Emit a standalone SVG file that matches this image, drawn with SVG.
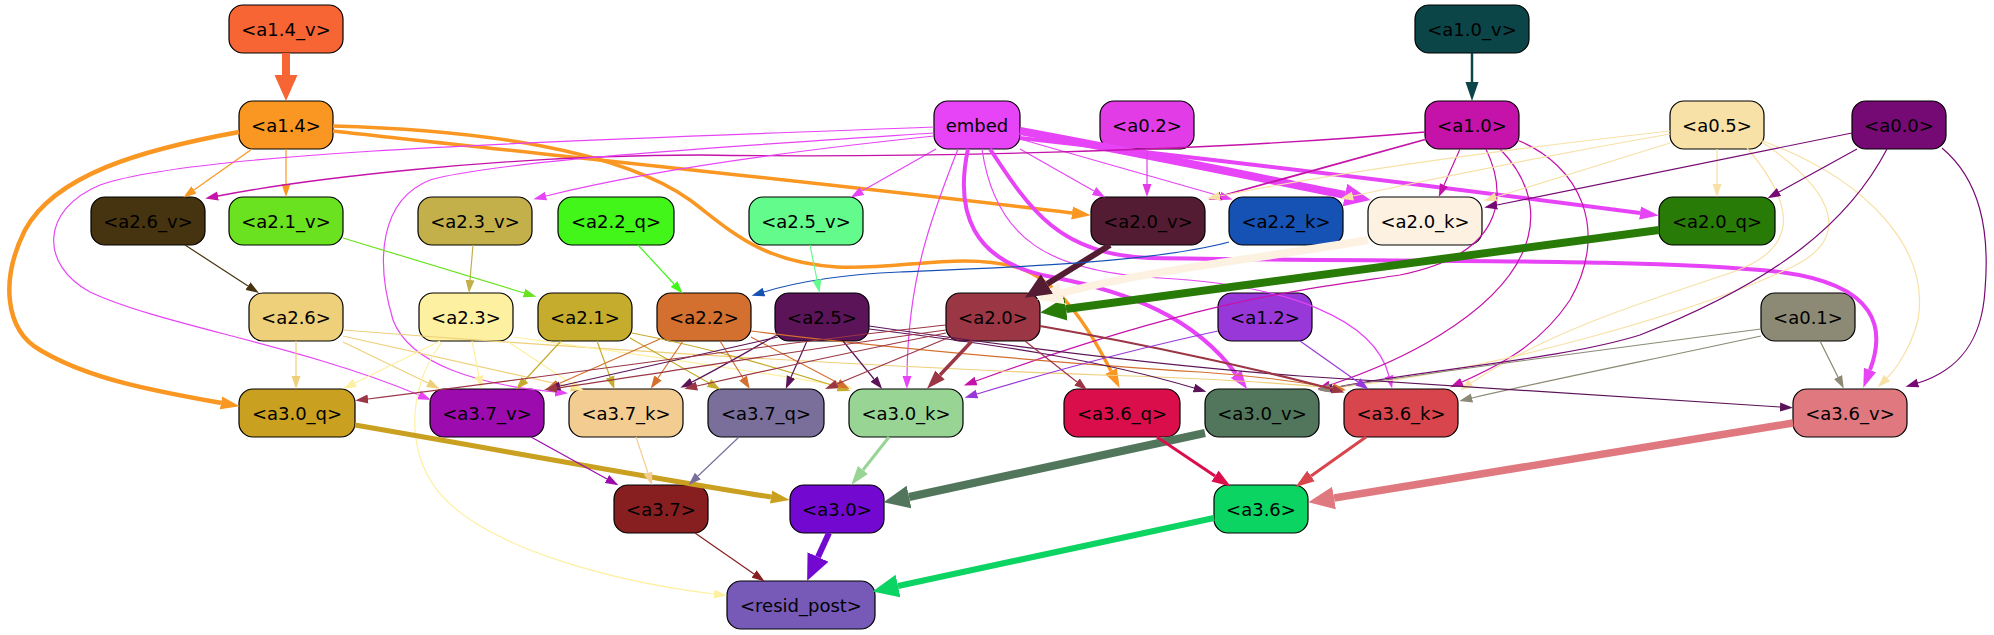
<svg xmlns="http://www.w3.org/2000/svg" width="1994" height="635" viewBox="0 0 1994 635">
<style>
.nd rect{stroke:#000;stroke-width:1.2}
.nd text{font-family:"DejaVu Sans","Liberation Sans",sans-serif;font-size:18px;text-anchor:middle;fill:#000}
#edges path{fill:none}
</style>
<defs>
<marker id="t-a14" markerUnits="userSpaceOnUse" markerWidth="13" markerHeight="10" viewBox="0 0 13 10" refX="0" refY="5" orient="auto"><path d="M0,0.5L13,5L0,9.5z" fill="#f99722"/></marker>
<marker id="t-emb" markerUnits="userSpaceOnUse" markerWidth="13" markerHeight="10" viewBox="0 0 13 10" refX="0" refY="5" orient="auto"><path d="M0,0.5L13,5L0,9.5z" fill="#e644f6"/></marker>
<marker id="t-a02" markerUnits="userSpaceOnUse" markerWidth="13" markerHeight="10" viewBox="0 0 13 10" refX="0" refY="5" orient="auto"><path d="M0,0.5L13,5L0,9.5z" fill="#e23ce6"/></marker>
<marker id="t-a10" markerUnits="userSpaceOnUse" markerWidth="13" markerHeight="10" viewBox="0 0 13 10" refX="0" refY="5" orient="auto"><path d="M0,0.5L13,5L0,9.5z" fill="#c512a9"/></marker>
<marker id="t-a05" markerUnits="userSpaceOnUse" markerWidth="13" markerHeight="10" viewBox="0 0 13 10" refX="0" refY="5" orient="auto"><path d="M0,0.5L13,5L0,9.5z" fill="#f7e1a7"/></marker>
<marker id="t-a00" markerUnits="userSpaceOnUse" markerWidth="13" markerHeight="10" viewBox="0 0 13 10" refX="0" refY="5" orient="auto"><path d="M0,0.5L13,5L0,9.5z" fill="#760a74"/></marker>
<marker id="t-a01" markerUnits="userSpaceOnUse" markerWidth="13" markerHeight="10" viewBox="0 0 13 10" refX="0" refY="5" orient="auto"><path d="M0,0.5L13,5L0,9.5z" fill="#8c8a75"/></marker>
<marker id="t-a26v" markerUnits="userSpaceOnUse" markerWidth="13" markerHeight="10" viewBox="0 0 13 10" refX="0" refY="5" orient="auto"><path d="M0,0.5L13,5L0,9.5z" fill="#46330f"/></marker>
<marker id="t-a21v" markerUnits="userSpaceOnUse" markerWidth="13" markerHeight="10" viewBox="0 0 13 10" refX="0" refY="5" orient="auto"><path d="M0,0.5L13,5L0,9.5z" fill="#6ae21f"/></marker>
<marker id="t-a23v" markerUnits="userSpaceOnUse" markerWidth="13" markerHeight="10" viewBox="0 0 13 10" refX="0" refY="5" orient="auto"><path d="M0,0.5L13,5L0,9.5z" fill="#c4b04b"/></marker>
<marker id="t-a22q" markerUnits="userSpaceOnUse" markerWidth="13" markerHeight="10" viewBox="0 0 13 10" refX="0" refY="5" orient="auto"><path d="M0,0.5L13,5L0,9.5z" fill="#42f61a"/></marker>
<marker id="t-a25v" markerUnits="userSpaceOnUse" markerWidth="13" markerHeight="10" viewBox="0 0 13 10" refX="0" refY="5" orient="auto"><path d="M0,0.5L13,5L0,9.5z" fill="#64fb8d"/></marker>
<marker id="t-a22k" markerUnits="userSpaceOnUse" markerWidth="13" markerHeight="10" viewBox="0 0 13 10" refX="0" refY="5" orient="auto"><path d="M0,0.5L13,5L0,9.5z" fill="#1651b4"/></marker>
<marker id="t-a26" markerUnits="userSpaceOnUse" markerWidth="13" markerHeight="10" viewBox="0 0 13 10" refX="0" refY="5" orient="auto"><path d="M0,0.5L13,5L0,9.5z" fill="#eecf7a"/></marker>
<marker id="t-a23" markerUnits="userSpaceOnUse" markerWidth="13" markerHeight="10" viewBox="0 0 13 10" refX="0" refY="5" orient="auto"><path d="M0,0.5L13,5L0,9.5z" fill="#fdf0a0"/></marker>
<marker id="t-a21" markerUnits="userSpaceOnUse" markerWidth="13" markerHeight="10" viewBox="0 0 13 10" refX="0" refY="5" orient="auto"><path d="M0,0.5L13,5L0,9.5z" fill="#c6ac2c"/></marker>
<marker id="t-a22" markerUnits="userSpaceOnUse" markerWidth="13" markerHeight="10" viewBox="0 0 13 10" refX="0" refY="5" orient="auto"><path d="M0,0.5L13,5L0,9.5z" fill="#d3702f"/></marker>
<marker id="t-a25" markerUnits="userSpaceOnUse" markerWidth="13" markerHeight="10" viewBox="0 0 13 10" refX="0" refY="5" orient="auto"><path d="M0,0.5L13,5L0,9.5z" fill="#5b1458"/></marker>
<marker id="t-a20" markerUnits="userSpaceOnUse" markerWidth="13" markerHeight="10" viewBox="0 0 13 10" refX="0" refY="5" orient="auto"><path d="M0,0.5L13,5L0,9.5z" fill="#9b3645"/></marker>
<marker id="t-a12" markerUnits="userSpaceOnUse" markerWidth="13" markerHeight="10" viewBox="0 0 13 10" refX="0" refY="5" orient="auto"><path d="M0,0.5L13,5L0,9.5z" fill="#9838d9"/></marker>
<marker id="t-a37v" markerUnits="userSpaceOnUse" markerWidth="13" markerHeight="10" viewBox="0 0 13 10" refX="0" refY="5" orient="auto"><path d="M0,0.5L13,5L0,9.5z" fill="#9b0bad"/></marker>
<marker id="t-a37k" markerUnits="userSpaceOnUse" markerWidth="13" markerHeight="10" viewBox="0 0 13 10" refX="0" refY="5" orient="auto"><path d="M0,0.5L13,5L0,9.5z" fill="#f3cc91"/></marker>
<marker id="t-a37q" markerUnits="userSpaceOnUse" markerWidth="13" markerHeight="10" viewBox="0 0 13 10" refX="0" refY="5" orient="auto"><path d="M0,0.5L13,5L0,9.5z" fill="#7a6f9b"/></marker>
<marker id="t-a37" markerUnits="userSpaceOnUse" markerWidth="13" markerHeight="10" viewBox="0 0 13 10" refX="0" refY="5" orient="auto"><path d="M0,0.5L13,5L0,9.5z" fill="#871f20"/></marker>
<marker id="m-a14" markerUnits="userSpaceOnUse" markerWidth="19" markerHeight="14" viewBox="0 0 19 14" refX="0" refY="7" orient="auto"><path d="M0,0.5L19,7L0,13.5z" fill="#f99722"/></marker>
<marker id="m-emb" markerUnits="userSpaceOnUse" markerWidth="19" markerHeight="14" viewBox="0 0 19 14" refX="0" refY="7" orient="auto"><path d="M0,0.5L19,7L0,13.5z" fill="#e644f6"/></marker>
<marker id="m-a10v" markerUnits="userSpaceOnUse" markerWidth="19" markerHeight="14" viewBox="0 0 19 14" refX="0" refY="7" orient="auto"><path d="M0,0.5L19,7L0,13.5z" fill="#0b4548"/></marker>
<marker id="m-a20" markerUnits="userSpaceOnUse" markerWidth="19" markerHeight="14" viewBox="0 0 19 14" refX="0" refY="7" orient="auto"><path d="M0,0.5L19,7L0,13.5z" fill="#9b3645"/></marker>
<marker id="m-a30q" markerUnits="userSpaceOnUse" markerWidth="19" markerHeight="14" viewBox="0 0 19 14" refX="0" refY="7" orient="auto"><path d="M0,0.5L19,7L0,13.5z" fill="#caa021"/></marker>
<marker id="m-a30k" markerUnits="userSpaceOnUse" markerWidth="19" markerHeight="14" viewBox="0 0 19 14" refX="0" refY="7" orient="auto"><path d="M0,0.5L19,7L0,13.5z" fill="#98d594"/></marker>
<marker id="m-a36q" markerUnits="userSpaceOnUse" markerWidth="19" markerHeight="14" viewBox="0 0 19 14" refX="0" refY="7" orient="auto"><path d="M0,0.5L19,7L0,13.5z" fill="#db0e4c"/></marker>
<marker id="m-a36k" markerUnits="userSpaceOnUse" markerWidth="19" markerHeight="14" viewBox="0 0 19 14" refX="0" refY="7" orient="auto"><path d="M0,0.5L19,7L0,13.5z" fill="#d8454c"/></marker>
<marker id="b-a14v" markerUnits="userSpaceOnUse" markerWidth="26" markerHeight="24" viewBox="0 0 26 24" refX="0" refY="12" orient="auto"><path d="M0,0.5L26,12L0,23.5z" fill="#f76535"/></marker>
<marker id="b-emb" markerUnits="userSpaceOnUse" markerWidth="26" markerHeight="24" viewBox="0 0 26 24" refX="0" refY="12" orient="auto"><path d="M0,0.5L26,12L0,23.5z" fill="#e644f6"/></marker>
<marker id="b-a20q" markerUnits="userSpaceOnUse" markerWidth="26" markerHeight="24" viewBox="0 0 26 24" refX="0" refY="12" orient="auto"><path d="M0,0.5L26,12L0,23.5z" fill="#287b06"/></marker>
<marker id="b-a20k" markerUnits="userSpaceOnUse" markerWidth="26" markerHeight="24" viewBox="0 0 26 24" refX="0" refY="12" orient="auto"><path d="M0,0.5L26,12L0,23.5z" fill="#fdf2e2"/></marker>
<marker id="b-a20v" markerUnits="userSpaceOnUse" markerWidth="26" markerHeight="24" viewBox="0 0 26 24" refX="0" refY="12" orient="auto"><path d="M0,0.5L26,12L0,23.5z" fill="#541c32"/></marker>
<marker id="b-a30v" markerUnits="userSpaceOnUse" markerWidth="26" markerHeight="24" viewBox="0 0 26 24" refX="0" refY="12" orient="auto"><path d="M0,0.5L26,12L0,23.5z" fill="#51765b"/></marker>
<marker id="b-a36v" markerUnits="userSpaceOnUse" markerWidth="26" markerHeight="24" viewBox="0 0 26 24" refX="0" refY="12" orient="auto"><path d="M0,0.5L26,12L0,23.5z" fill="#e0787f"/></marker>
<marker id="b-a30" markerUnits="userSpaceOnUse" markerWidth="26" markerHeight="24" viewBox="0 0 26 24" refX="0" refY="12" orient="auto"><path d="M0,0.5L26,12L0,23.5z" fill="#7308d0"/></marker>
<marker id="b-a36" markerUnits="userSpaceOnUse" markerWidth="26" markerHeight="24" viewBox="0 0 26 24" refX="0" refY="12" orient="auto"><path d="M0,0.5L26,12L0,23.5z" fill="#0bd462"/></marker>
</defs>
<rect width="1994" height="635" fill="#fff"/>
<g id="nodes">
<g id="n-a1_4_v" class="nd"><rect x="229" y="5" width="114" height="48" rx="14" fill="#f76535"/><text x="286" y="35.5">&lt;a1.4_v&gt;</text></g>
<g id="n-a1_0_v" class="nd"><rect x="1415" y="5" width="114" height="48" rx="14" fill="#0b4548"/><text x="1472" y="35.5">&lt;a1.0_v&gt;</text></g>
<g id="n-a1_4" class="nd"><rect x="239" y="101" width="94" height="48" rx="14" fill="#f99722"/><text x="286" y="131.5">&lt;a1.4&gt;</text></g>
<g id="n-embed" class="nd"><rect x="934" y="101" width="86" height="48" rx="14" fill="#e644f6"/><text x="977" y="131.5">embed</text></g>
<g id="n-a0_2" class="nd"><rect x="1100" y="101" width="94" height="48" rx="14" fill="#e23ce6"/><text x="1147" y="131.5">&lt;a0.2&gt;</text></g>
<g id="n-a1_0" class="nd"><rect x="1425" y="101" width="94" height="48" rx="14" fill="#c512a9"/><text x="1472" y="131.5">&lt;a1.0&gt;</text></g>
<g id="n-a0_5" class="nd"><rect x="1670" y="101" width="94" height="48" rx="14" fill="#f7e1a7"/><text x="1717" y="131.5">&lt;a0.5&gt;</text></g>
<g id="n-a0_0" class="nd"><rect x="1852" y="101" width="94" height="48" rx="14" fill="#760a74"/><text x="1899" y="131.5">&lt;a0.0&gt;</text></g>
<g id="n-a2_6_v" class="nd"><rect x="91" y="197" width="114" height="48" rx="14" fill="#46330f"/><text x="148" y="227.5">&lt;a2.6_v&gt;</text></g>
<g id="n-a2_1_v" class="nd"><rect x="229" y="197" width="114" height="48" rx="14" fill="#6ae21f"/><text x="286" y="227.5">&lt;a2.1_v&gt;</text></g>
<g id="n-a2_3_v" class="nd"><rect x="418" y="197" width="114" height="48" rx="14" fill="#c4b04b"/><text x="475" y="227.5">&lt;a2.3_v&gt;</text></g>
<g id="n-a2_2_q" class="nd"><rect x="558" y="197" width="116" height="48" rx="14" fill="#42f61a"/><text x="616" y="227.5">&lt;a2.2_q&gt;</text></g>
<g id="n-a2_5_v" class="nd"><rect x="749" y="197" width="114" height="48" rx="14" fill="#64fb8d"/><text x="806" y="227.5">&lt;a2.5_v&gt;</text></g>
<g id="n-a2_0_v" class="nd"><rect x="1091" y="197" width="114" height="48" rx="14" fill="#541c32"/><text x="1148" y="227.5">&lt;a2.0_v&gt;</text></g>
<g id="n-a2_2_k" class="nd"><rect x="1229" y="197" width="114" height="48" rx="14" fill="#1651b4"/><text x="1286" y="227.5">&lt;a2.2_k&gt;</text></g>
<g id="n-a2_0_k" class="nd"><rect x="1368" y="197" width="114" height="48" rx="14" fill="#fdf2e2"/><text x="1425" y="227.5">&lt;a2.0_k&gt;</text></g>
<g id="n-a2_0_q" class="nd"><rect x="1659" y="197" width="116" height="48" rx="14" fill="#287b06"/><text x="1717" y="227.5">&lt;a2.0_q&gt;</text></g>
<g id="n-a2_6" class="nd"><rect x="249" y="293" width="94" height="48" rx="14" fill="#eecf7a"/><text x="296" y="323.5">&lt;a2.6&gt;</text></g>
<g id="n-a2_3" class="nd"><rect x="419" y="293" width="94" height="48" rx="14" fill="#fdf0a0"/><text x="466" y="323.5">&lt;a2.3&gt;</text></g>
<g id="n-a2_1" class="nd"><rect x="538" y="293" width="94" height="48" rx="14" fill="#c6ac2c"/><text x="585" y="323.5">&lt;a2.1&gt;</text></g>
<g id="n-a2_2" class="nd"><rect x="657" y="293" width="94" height="48" rx="14" fill="#d3702f"/><text x="704" y="323.5">&lt;a2.2&gt;</text></g>
<g id="n-a2_5" class="nd"><rect x="775" y="293" width="94" height="48" rx="14" fill="#5b1458"/><text x="822" y="323.5">&lt;a2.5&gt;</text></g>
<g id="n-a2_0" class="nd"><rect x="946" y="293" width="94" height="48" rx="14" fill="#9b3645"/><text x="993" y="323.5">&lt;a2.0&gt;</text></g>
<g id="n-a1_2" class="nd"><rect x="1218" y="293" width="94" height="48" rx="14" fill="#9838d9"/><text x="1265" y="323.5">&lt;a1.2&gt;</text></g>
<g id="n-a0_1" class="nd"><rect x="1761" y="293" width="94" height="48" rx="14" fill="#8c8a75"/><text x="1808" y="323.5">&lt;a0.1&gt;</text></g>
<g id="n-a3_0_q" class="nd"><rect x="239" y="389" width="116" height="48" rx="14" fill="#caa021"/><text x="297" y="419.5">&lt;a3.0_q&gt;</text></g>
<g id="n-a3_7_v" class="nd"><rect x="430" y="389" width="114" height="48" rx="14" fill="#9b0bad"/><text x="487" y="419.5">&lt;a3.7_v&gt;</text></g>
<g id="n-a3_7_k" class="nd"><rect x="569" y="389" width="114" height="48" rx="14" fill="#f3cc91"/><text x="626" y="419.5">&lt;a3.7_k&gt;</text></g>
<g id="n-a3_7_q" class="nd"><rect x="708" y="389" width="116" height="48" rx="14" fill="#7a6f9b"/><text x="766" y="419.5">&lt;a3.7_q&gt;</text></g>
<g id="n-a3_0_k" class="nd"><rect x="849" y="389" width="114" height="48" rx="14" fill="#98d594"/><text x="906" y="419.5">&lt;a3.0_k&gt;</text></g>
<g id="n-a3_6_q" class="nd"><rect x="1064" y="389" width="116" height="48" rx="14" fill="#db0e4c"/><text x="1122" y="419.5">&lt;a3.6_q&gt;</text></g>
<g id="n-a3_0_v" class="nd"><rect x="1205" y="389" width="114" height="48" rx="14" fill="#51765b"/><text x="1262" y="419.5">&lt;a3.0_v&gt;</text></g>
<g id="n-a3_6_k" class="nd"><rect x="1344" y="389" width="114" height="48" rx="14" fill="#d8454c"/><text x="1401" y="419.5">&lt;a3.6_k&gt;</text></g>
<g id="n-a3_6_v" class="nd"><rect x="1793" y="389" width="114" height="48" rx="14" fill="#e0787f"/><text x="1850" y="419.5">&lt;a3.6_v&gt;</text></g>
<g id="n-a3_7" class="nd"><rect x="614" y="485" width="94" height="48" rx="14" fill="#871f20"/><text x="661" y="515.5">&lt;a3.7&gt;</text></g>
<g id="n-a3_0" class="nd"><rect x="790" y="485" width="94" height="48" rx="14" fill="#7308d0"/><text x="837" y="515.5">&lt;a3.0&gt;</text></g>
<g id="n-a3_6" class="nd"><rect x="1214" y="485" width="94" height="48" rx="14" fill="#0bd462"/><text x="1261" y="515.5">&lt;a3.6&gt;</text></g>
<g id="n-resid_post" class="nd"><rect x="727" y="581" width="148" height="48" rx="14" fill="#775ab8"/><text x="801" y="611.5">&lt;resid_post&gt;</text></g>
</g>
<g id="edges">
<path d="M286,53L286,75" stroke="#f76535" stroke-width="8" marker-end="url(#b-a14v)"/>
<path d="M252,149L194,190" stroke="#f99722" stroke-width="1.2" marker-end="url(#t-a14)"/>
<path d="M286,149L286,184" stroke="#f99722" stroke-width="1.2" marker-end="url(#t-a14)"/>
<path d="M239,132C140,150 55,175 25,230C0,280 5,330 40,350C90,380 160,392 221,403" stroke="#f99722" stroke-width="4.5" marker-end="url(#m-a14)"/>
<path d="M333,131C500,150 800,180 1072,213" stroke="#f99722" stroke-width="3.5" marker-end="url(#m-a14)"/>
<path d="M333,126C480,130 620,150 690,200C730,230 760,262 837,267C900,270 960,252 1016,267C1060,280 1090,330 1111,371" stroke="#f99722" stroke-width="3.5" marker-end="url(#m-a14)"/>
<path d="M936,149L862,191" stroke="#e644f6" stroke-width="1.2" marker-end="url(#t-emb)"/>
<path d="M1020,149L1094,191" stroke="#e644f6" stroke-width="1.2" marker-end="url(#t-emb)"/>
<path d="M1020,139L1220,196" stroke="#e644f6" stroke-width="1.2" marker-end="url(#t-emb)"/>
<path d="M1020,131C1150,155 1260,178 1345,195" stroke="#e644f6" stroke-width="8" marker-end="url(#b-emb)"/>
<path d="M1020,138C1200,158 1450,188 1640,213" stroke="#e644f6" stroke-width="4" marker-end="url(#m-emb)"/>
<path d="M1425,132C1200,152 900,158 700,155C500,155 300,180 218,196" stroke="#c512a9" stroke-width="1.3" marker-end="url(#t-a10)"/>
<path d="M934,136C800,150 650,170 546,196" stroke="#e644f6" stroke-width="1.2" marker-end="url(#t-emb)"/>
<path d="M934,127C600,140 200,150 100,185C40,210 40,265 90,292C160,325 300,345 419,395" stroke="#e644f6" stroke-width="1.2" marker-end="url(#t-emb)"/>
<path d="M934,133C750,145 500,160 430,180C380,200 375,260 393,320C410,365 480,385 555,392" stroke="#e644f6" stroke-width="1.2" marker-end="url(#t-emb)"/>
<path d="M958,149C930,220 908,280 907,376" stroke="#e644f6" stroke-width="1.2" marker-end="url(#t-emb)"/>
<path d="M968,149C955,210 970,262 1052,277C1130,292 1195,318 1236,374" stroke="#e644f6" stroke-width="4" marker-end="url(#m-emb)"/>
<path d="M990,149C1030,210 1060,255 1150,258C1400,262 1650,258 1780,272C1880,285 1885,330 1870,370" stroke="#e644f6" stroke-width="4" marker-end="url(#m-emb)"/>
<path d="M982,149C995,240 1050,272 1160,278C1290,285 1375,320 1389,376" stroke="#e644f6" stroke-width="1.2" marker-end="url(#t-emb)"/>
<path d="M1147,149L1147,184" stroke="#e23ce6" stroke-width="1.2" marker-end="url(#t-a02)"/>
<path d="M1472,53L1472,82" stroke="#0b4548" stroke-width="2.5" marker-end="url(#m-a10v)"/>
<path d="M1460,149L1444,185" stroke="#c512a9" stroke-width="1.2" marker-end="url(#t-a10)"/>
<path d="M1427,139L1221,196" stroke="#c512a9" stroke-width="1.8" marker-end="url(#t-a10)"/>
<path d="M1486,149C1510,200 1500,255 1400,275C1300,290 1200,300 976,381" stroke="#c512a9" stroke-width="1.2" marker-end="url(#t-a10)"/>
<path d="M1500,149C1550,200 1545,270 1440,335C1400,360 1360,375 1330,385" stroke="#c512a9" stroke-width="1.2" marker-end="url(#t-a10)"/>
<path d="M1517,140C1580,165 1610,230 1570,300C1540,345 1500,365 1462,382" stroke="#c512a9" stroke-width="1.2" marker-end="url(#t-a10)"/>
<path d="M1717,149L1717,184" stroke="#f7e1a7" stroke-width="1.2" marker-end="url(#t-a05)"/>
<path d="M1670,143L1496,197" stroke="#f7e1a7" stroke-width="1.2" marker-end="url(#t-a05)"/>
<path d="M1670,134C1550,155 1450,175 1353,196" stroke="#f7e1a7" stroke-width="1.2" marker-end="url(#t-a05)"/>
<path d="M1670,131C1500,150 1350,170 1220,196" stroke="#f7e1a7" stroke-width="1.2" marker-end="url(#t-a05)"/>
<path d="M1760,140C1870,180 1930,250 1918,320C1910,350 1895,370 1887,378" stroke="#f7e1a7" stroke-width="1.2" marker-end="url(#t-a05)"/>
<path d="M1747,148C1800,210 1795,250 1733,272C1650,300 1550,330 1471,383" stroke="#f7e1a7" stroke-width="1.2" marker-end="url(#t-a05)"/>
<path d="M1762,142C1840,195 1850,240 1790,268C1700,310 1500,370 1333,388" stroke="#f7e1a7" stroke-width="1.2" marker-end="url(#t-a05)"/>
<path d="M1857,149L1779,192" stroke="#760a74" stroke-width="1.2" marker-end="url(#t-a00)"/>
<path d="M1852,133L1497,205" stroke="#760a74" stroke-width="1.2" marker-end="url(#t-a00)"/>
<path d="M1942,148C1980,180 1990,230 1985,290C1982,340 1960,370 1918,383" stroke="#760a74" stroke-width="1.2" marker-end="url(#t-a00)"/>
<path d="M1887,149C1850,220 1780,280 1640,335C1560,360 1420,370 1333,388" stroke="#760a74" stroke-width="1.2" marker-end="url(#t-a00)"/>
<path d="M1820,341L1838,377" stroke="#8c8a75" stroke-width="1.2" marker-end="url(#t-a01)"/>
<path d="M1761,336C1650,360 1550,380 1472,398" stroke="#8c8a75" stroke-width="1.2" marker-end="url(#t-a01)"/>
<path d="M1761,329C1600,350 1450,370 1330,388" stroke="#8c8a75" stroke-width="1.2" marker-end="url(#t-a01)"/>
<path d="M1659,230L1066,309" stroke="#287b06" stroke-width="8" marker-end="url(#b-a20q)"/>
<path d="M1368,240C1250,260 1150,270 1062,293" stroke="#fdf2e2" stroke-width="8" marker-end="url(#b-a20k)"/>
<path d="M1110,245L1047,284" stroke="#541c32" stroke-width="6" marker-end="url(#b-a20v)"/>
<path d="M1229,242C1150,263 1000,268 900,272C830,275 790,284 764,292" stroke="#1651b4" stroke-width="1.2" marker-end="url(#t-a22k)"/>
<path d="M810,245L817,280" stroke="#64fb8d" stroke-width="1.2" marker-end="url(#t-a25v)"/>
<path d="M638,245L674,284" stroke="#42f61a" stroke-width="1.2" marker-end="url(#t-a22q)"/>
<path d="M473,245L470,280" stroke="#c4b04b" stroke-width="1.2" marker-end="url(#t-a23v)"/>
<path d="M343,238L524,293" stroke="#6ae21f" stroke-width="1.2" marker-end="url(#t-a21v)"/>
<path d="M185,245L248,286" stroke="#46330f" stroke-width="1.2" marker-end="url(#t-a26v)"/>
<path d="M296,341L296,376" stroke="#eecf7a" stroke-width="1.2" marker-end="url(#t-a26)"/>
<path d="M343,342L428,383" stroke="#eecf7a" stroke-width="1.2" marker-end="url(#t-a26)"/>
<path d="M343,336L571,387" stroke="#eecf7a" stroke-width="1.2" marker-end="url(#t-a26)"/>
<path d="M343,330C600,350 900,368 1100,375C1200,378 1280,383 1333,388" stroke="#eecf7a" stroke-width="1.2" marker-end="url(#t-a26)"/>
<path d="M440,341L355,383" stroke="#fdf0a0" stroke-width="1.2" marker-end="url(#t-a23)"/>
<path d="M472,341L479,376" stroke="#fdf0a0" stroke-width="1.2" marker-end="url(#t-a23)"/>
<path d="M442,342C405,390 405,460 446,500C490,545 600,580 714,594" stroke="#fdf0a0" stroke-width="1.2" marker-end="url(#t-a23)"/>
<path d="M507,341L572,384" stroke="#fdf0a0" stroke-width="1.2" marker-end="url(#t-a23)"/>
<path d="M513,337C620,352 750,370 840,386" stroke="#fdf0a0" stroke-width="1.2" marker-end="url(#t-a23)"/>
<path d="M561,341L525,380" stroke="#c6ac2c" stroke-width="1.2" marker-end="url(#t-a21)"/>
<path d="M597,341L610,377" stroke="#c6ac2c" stroke-width="1.2" marker-end="url(#t-a21)"/>
<path d="M630,338L709,383" stroke="#c6ac2c" stroke-width="1.2" marker-end="url(#t-a21)"/>
<path d="M632,333C720,350 790,372 838,387" stroke="#c6ac2c" stroke-width="1.2" marker-end="url(#t-a21)"/>
<path d="M660,339L558,384" stroke="#d3702f" stroke-width="1.2" marker-end="url(#t-a22)"/>
<path d="M683,341L658,378" stroke="#d3702f" stroke-width="1.2" marker-end="url(#t-a22)"/>
<path d="M720,341L743,378" stroke="#d3702f" stroke-width="1.2" marker-end="url(#t-a22)"/>
<path d="M751,337L838,383" stroke="#d3702f" stroke-width="1.2" marker-end="url(#t-a22)"/>
<path d="M751,331C900,350 1100,366 1200,372C1260,376 1300,382 1333,388" stroke="#d3702f" stroke-width="1.2" marker-end="url(#t-a22)"/>
<path d="M778,337C700,355 620,372 560,386" stroke="#5b1458" stroke-width="1.2" marker-end="url(#t-a25)"/>
<path d="M777,335C750,350 720,368 692,382" stroke="#5b1458" stroke-width="1.2" marker-end="url(#t-a25)"/>
<path d="M807,341L791,377" stroke="#5b1458" stroke-width="1.2" marker-end="url(#t-a25)"/>
<path d="M843,341L874,379" stroke="#5b1458" stroke-width="1.2" marker-end="url(#t-a25)"/>
<path d="M869,329C1000,345 1100,360 1194,388" stroke="#5b1458" stroke-width="1.2" marker-end="url(#t-a25)"/>
<path d="M869,326C1000,345 1150,365 1300,376C1500,390 1650,400 1780,407" stroke="#5b1458" stroke-width="1.2" marker-end="url(#t-a25)"/>
<path d="M946,325C800,340 600,370 368,399" stroke="#9b3645" stroke-width="1.2" marker-end="url(#t-a20)"/>
<path d="M946,330C800,350 650,375 557,388" stroke="#9b3645" stroke-width="1.2" marker-end="url(#t-a20)"/>
<path d="M946,333C850,352 760,372 697,386" stroke="#9b3645" stroke-width="1.2" marker-end="url(#t-a20)"/>
<path d="M950,337L837,384" stroke="#9b3645" stroke-width="1.2" marker-end="url(#t-a20)"/>
<path d="M972,341L940,375" stroke="#9b3645" stroke-width="3.5" marker-end="url(#m-a20)"/>
<path d="M1025,341L1077,382" stroke="#9b3645" stroke-width="1.2" marker-end="url(#t-a20)"/>
<path d="M1040,326C1150,345 1270,372 1332,389" stroke="#9b3645" stroke-width="2.2" marker-end="url(#t-a20)"/>
<path d="M1218,331C1130,350 1050,372 977,394" stroke="#9838d9" stroke-width="1.2" marker-end="url(#t-a12)"/>
<path d="M1300,341L1358,382" stroke="#9838d9" stroke-width="1.2" marker-end="url(#t-a12)"/>
<path d="M355,425C500,450 650,478 771,497" stroke="#caa021" stroke-width="5" marker-end="url(#m-a30q)"/>
<path d="M531,437L607,479" stroke="#9b0bad" stroke-width="1.2" marker-end="url(#t-a37v)"/>
<path d="M636,437L648,473" stroke="#f3cc91" stroke-width="1.2" marker-end="url(#t-a37k)"/>
<path d="M739,437L698,476" stroke="#7a6f9b" stroke-width="1.2" marker-end="url(#t-a37q)"/>
<path d="M889,437L863,470" stroke="#98d594" stroke-width="3" marker-end="url(#m-a30k)"/>
<path d="M1205,433C1100,455 1000,478 909,497" stroke="#51765b" stroke-width="8" marker-end="url(#b-a30v)"/>
<path d="M1157,437L1215,476" stroke="#db0e4c" stroke-width="3" marker-end="url(#m-a36q)"/>
<path d="M1366,437L1311,476" stroke="#d8454c" stroke-width="3" marker-end="url(#m-a36k)"/>
<path d="M1793,423L1334,498" stroke="#e0787f" stroke-width="7.5" marker-end="url(#b-a36v)"/>
<path d="M695,533L754,574" stroke="#871f20" stroke-width="1.2" marker-end="url(#t-a37)"/>
<path d="M829,533L818,557" stroke="#7308d0" stroke-width="6" marker-end="url(#b-a30)"/>
<path d="M1214,518L898,586" stroke="#0bd462" stroke-width="6" marker-end="url(#b-a36)"/>
</g>
</svg>
